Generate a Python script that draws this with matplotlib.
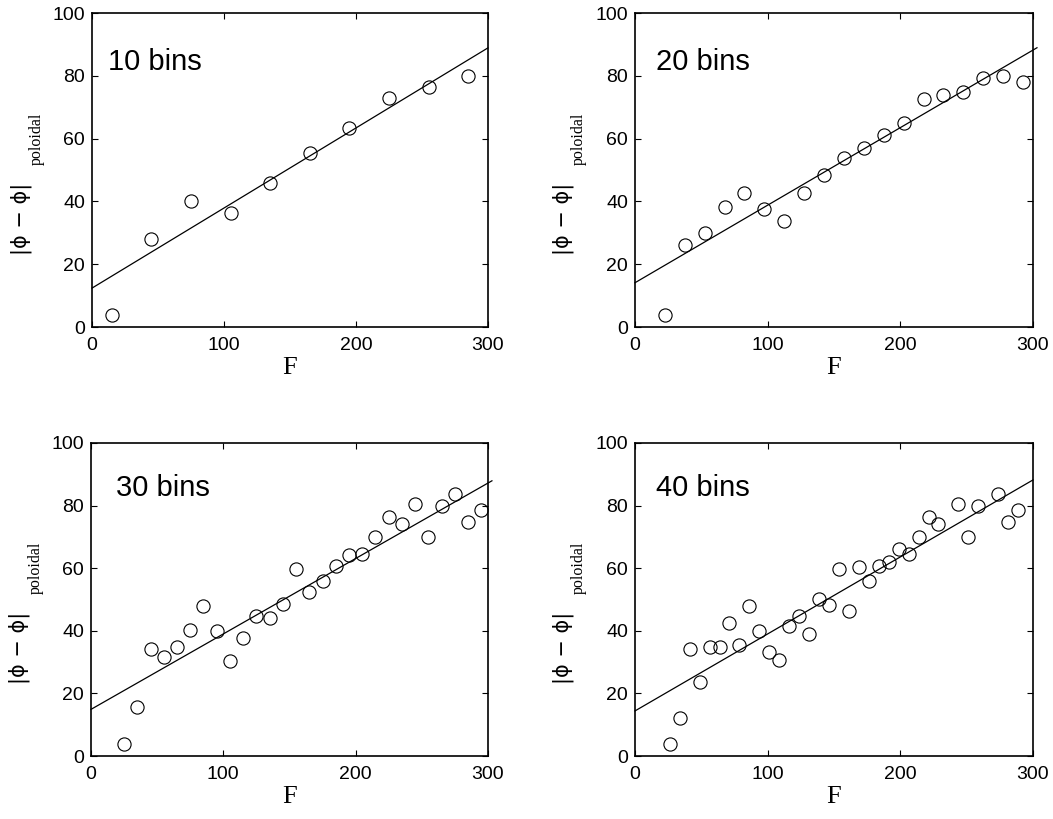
import matplotlib.pyplot as plt

# bin centres (F) and |phi - phi|_poloidal for each binning
f_10 = [15, 45, 75, 105, 135, 165, 195, 225, 255, 285]
d_10 = [3.8, 28.1, 40.1, 36.4, 46.0, 55.3, 63.5, 72.9, 76.3, 79.9]

f_20 = [22.5, 37.5, 52.5, 67.5, 82.5, 97.5, 112.5, 127.5, 142.5, 157.5,
        172.5, 187.5, 202.5, 217.5, 232.5, 247.5, 262.5, 277.5, 292.5]
d_20 = [3.8, 26.1, 30.0, 38.3, 42.8, 37.6, 33.9, 42.6, 48.4, 53.9,
        57.1, 61.1, 65.1, 72.7, 73.9, 74.9, 79.4, 80.0, 78.1]

f_30 = [25, 35, 45, 55, 65, 75, 85, 95, 105, 115, 125, 135, 145, 155,
        165, 175, 185, 195, 205, 215, 225, 235, 245, 255, 265, 275, 285, 295]
d_30 = [3.8, 15.7, 34.1, 31.7, 34.7, 40.2, 48.0, 40.0, 30.2, 37.6, 44.8,
        44.0, 48.5, 59.7, 52.5, 55.9, 60.7, 64.1, 64.5, 70.1, 76.2, 74.1,
        80.5, 69.9, 79.9, 83.6, 74.7, 78.6]

f_40 = [26.25, 33.75, 41.25, 48.75, 56.25, 63.75, 71.25, 78.75, 86.25,
        93.75, 101.25, 108.75, 116.25, 123.75, 131.25, 138.75, 146.25,
        153.75, 161.25, 168.75, 176.25, 183.75, 191.25, 198.75, 206.25,
        213.75, 221.25, 228.75, 243.75, 251.25, 258.75, 273.75, 281.25, 288.75]
d_40 = [3.8, 12.0, 34.2, 23.5, 34.7, 34.7, 42.4, 35.5, 48.0, 40.0, 33.1,
        30.7, 41.5, 44.8, 38.9, 50.2, 48.2, 59.7, 46.3, 60.5, 55.9, 60.8,
        62.1, 66.1, 64.5, 70.1, 76.2, 74.1, 80.5, 69.9, 79.9, 83.6, 74.7, 78.6]

# linear fits: intercept, slope, end of fitted range
fit_b = [12.4, 14.1, 14.9, 14.4]
fit_m = [0.255, 0.247, 0.241, 0.246]
fit_end = [300, 303, 303, 300]

labels = ["10 bins", "20 bins", "30 bins", "40 bins"]
label_x = [12, 16, 19, 16]
label_y = [82, 82, 83, 83]

xs = [f_10, f_20, f_30, f_40]
ys = [d_10, d_20, d_30, d_40]

plt.rcParams['font.family'] = ['Liberation Sans', 'DejaVu Sans']

fig = plt.figure(figsize=(10.53, 8.19), dpi=100)
rects = [[0.0874, 0.6007, 0.376, 0.3834],
         [0.603, 0.6007, 0.378, 0.3834],
         [0.0864, 0.0769, 0.377, 0.3822],
         [0.603, 0.0769, 0.378, 0.3822]]

for i in range(4):
    ax = fig.add_axes(rects[i])
    ax.plot(xs[i], ys[i], 'o', mfc='none', mec='black', ms=9.5, mew=0.8)
    ax.plot([0, fit_end[i]], [fit_b[i], fit_b[i] + fit_m[i] * fit_end[i]],
            '-k', lw=0.9, clip_on=False)
    ax.set_xlim(0, 300)
    ax.set_ylim(0, 100)
    ax.set_xticks([0, 100, 200, 300])
    ax.set_yticks([0, 20, 40, 60, 80, 100])
    ax.tick_params(direction='in', top=True, right=True, length=4, width=0.8,
                   labelsize=14)
    ax.tick_params(axis='x', pad=7)
    ax.tick_params(axis='y', pad=5)
    for s in ax.spines.values():
        s.set_linewidth(1.2)
    ax.text(label_x[i], label_y[i], labels[i], fontsize=21, va='baseline')
    ax.set_xlabel("F", family='Liberation Serif', fontsize=19, labelpad=2)
    ax.text(-0.18, 0.345, "|\u03d5 \u2212 \u03d5|", rotation=90, fontsize=15,
            family='DejaVu Sans', ha='center', va='center', transform=ax.transAxes)
    ax.text(-0.14, 0.6, "poloidal", rotation=90, fontsize=11.5,
            family='Liberation Serif', ha='center', va='center', transform=ax.transAxes)

fig.savefig("out.png", dpi=100)
